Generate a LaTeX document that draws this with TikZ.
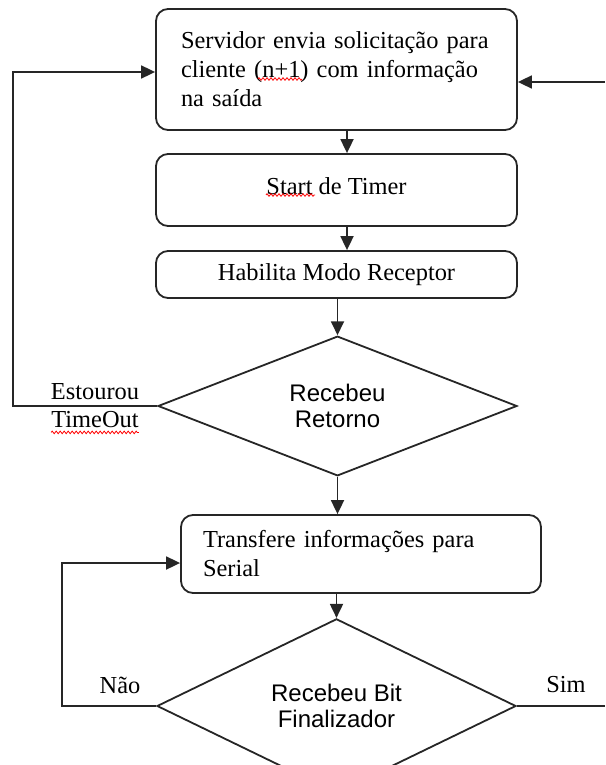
\documentclass[tikz,border=0pt]{standalone}
\usepackage{fontspec}
\setmainfont{Liberation Serif}
\newfontfamily\diafont{Liberation Sans}
\usetikzlibrary{shapes.geometric,arrows.meta,decorations.pathmorphing,calc}

\begin{document}
\begin{tikzpicture}[x=1pt,y=-1pt,
  every node/.style={font=\fontsize{24.4}{29}\selectfont},
  procbox/.style={draw=black!85, line width=1.8pt, rounded corners=12pt, minimum width=361pt, inner sep=0pt},
  decision/.style={draw=black!85, diamond, line width=1.8pt, minimum width=359pt, minimum height=118pt,
    inner sep=0pt, align=center, font=\diafont\fontsize{24}{26}\selectfont},
  flow/.style={draw=black!85, line width=1.8pt, -{Triangle[length=14pt,width=13pt]}},
  plainline/.style={draw=black!85, line width=1.8pt},
  lbl/.style={inner sep=0pt},
  spell/.style={red, line width=0.8pt, decorate,
    decoration={zigzag, segment length=4pt, amplitude=1.3pt}}
]
\useasboundingbox (0,0) rectangle (605,765);

% process boxes
\node[procbox, minimum height=121pt, text width=311pt, align=left] (b1) at (336.5,69.5)
  {Servidor envia solicitação para\\cliente (n+1) com informação\\na saída};
\node[procbox, minimum height=72pt] (b2) at (336.5,190) {\raisebox{7pt}{Start de Timer}};
\node[procbox, minimum height=47pt] (b3) at (336.5,274.5) {Habilita Modo Receptor};
\node[decision] (d1) at (337.5,406) {Recebeu\\Retorno};
\node[procbox, minimum width=360pt, minimum height=78pt, text width=316pt, align=left] (b4) at (361,554)
  {Transfere informações para\\Serial};
\node[decision] (d2) at (336.5,706) {Recebeu Bit\\Finalizador};

% branch labels
\node[lbl] (est) at (95,392) {Estourou};
\node[lbl] (tmo) at (95,420) {TimeOut};
\node[lbl] (nao) at (120,685) {Não};
\node[lbl] (sim) at (566,685) {Sim};

% helper coordinates for connector routing
\coordinate (colA) at (347,0);
\coordinate (lx) at (13,72);
\coordinate (rin) at (605,82);
\coordinate (lx2) at (62,563);
\coordinate (rout) at (605,706);

% main flow
\draw[flow] (b1.south -| colA) -- (b2.north -| colA);
\draw[flow] (b2.south -| colA) -- (b3.north -| colA);
\draw[flow] (d1.north |- b3.south) -- (d1.north);
\draw[flow] (d1.south) -- (d1.south |- b4.north);
\draw[flow] (d2.north |- b4.south) -- (d2.north);

% loops and exits
\draw[flow] (d1.west) -| (lx) -- (b1.west |- lx);
\draw[flow] (rin) -- (b1.east |- rin);
\draw[flow] (d2.west) -| (lx2) -- (b4.west |- lx2);
\draw[plainline] (d2.east) -- (rout);

% spell-check underlines
\draw[spell] (258,79) -- (302,79);
\draw[spell] (266,195) -- (315,195);
\draw[spell] ($(tmo.south west)+(0,4)$) -- ($(tmo.south east)+(0,4)$);
\end{tikzpicture}
\end{document}
